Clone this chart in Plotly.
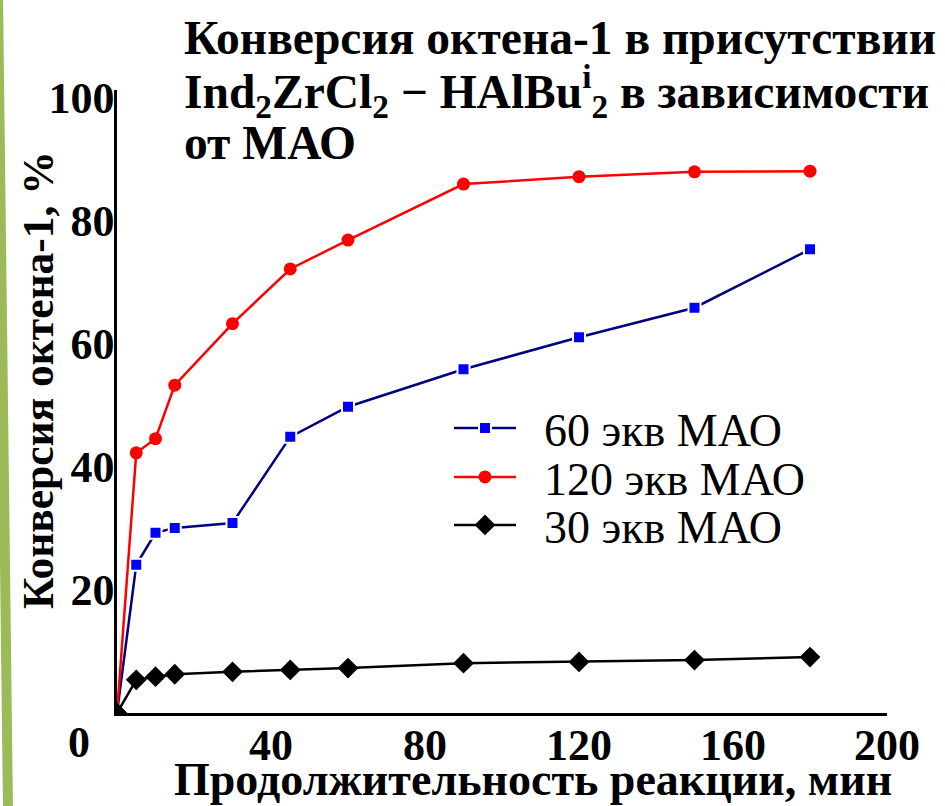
import plotly.graph_objects as go

# ---- data ----
time_min = [0, 5, 10, 15, 30, 45, 60, 90, 120, 150, 180]
conv_60 = [0, 24.1, 29.3, 30.1, 30.9, 44.9, 49.8, 55.9, 61.1, 65.9, 75.4]
conv_120 = [0, 42.3, 44.6, 53.3, 63.3, 72.2, 76.9, 86.0, 87.2, 88.0, 88.1]
conv_30 = [0, 5.4, 5.9, 6.3, 6.7, 7.0, 7.3, 8.1, 8.3, 8.6, 9.1]
series_names = ["60 экв МАО", "120 экв МАО", "30 экв МАО"]
x_ticks = [40, 80, 120, 160, 200]
y_ticks = [20, 40, 60, 80, 100]
title_lines = [
    "Конверсия октена-1 в присутствии",
    "Ind<sub>2</sub>ZrCl<sub>2</sub> − HAlBu<sup>i</sup><sub>2</sub> в зависимости",
    "от МАО",
]
x_title = "Продолжительность реакции, мин"
y_title = "Конверсия октена-1, %"

FONT = "Liberation Serif"
W, H = 945, 806
ML, MR, MT, MB = 117, 58, 90, 93
PW, PH = W - ML - MR, H - MT - MB


def px_x(p):
    return (p - ML) / PW


def px_y(p):
    return (H - MB - p) / PH


fig = go.Figure()
fig.add_trace(go.Scatter(
    x=time_min, y=conv_60, name="\u00a0\u00a0" + series_names[0], mode="lines+markers",
    line=dict(color="#000080", width=2.5),
    marker=dict(symbol="square", size=12, color="#0000FF", line=dict(color="white", width=2)),
    legend="legend",
))
fig.add_trace(go.Scatter(
    x=time_min, y=conv_120, name="\u00a0\u00a0" + series_names[1], mode="lines+markers",
    line=dict(color="#FF0000", width=2.5),
    marker=dict(symbol="circle", size=13, color="#FF0000"),
    legend="legend2",
))
fig.add_trace(go.Scatter(
    x=time_min, y=conv_30, name="\u00a0\u00a0" + series_names[2], mode="lines+markers",
    line=dict(color="#000000", width=2.5),
    marker=dict(symbol="diamond", size=16, color="#000000"),
    legend="legend3",
))

leg_common = dict(
    xanchor="left", yanchor="middle", bgcolor="rgba(0,0,0,0)",
    font=dict(family=FONT, size=46, color="black"), itemwidth=62,
)
fig.update_layout(
    legend=dict(x=px_x(449), y=px_y(428), **leg_common),
    legend2=dict(x=px_x(449), y=px_y(477), **leg_common),
    legend3=dict(x=px_x(449), y=px_y(525), **leg_common),
)

tick_font = dict(family=FONT, size=44, color="black", weight="bold")
fig.update_layout(
    width=W, height=H,
    margin=dict(l=ML, r=MR, t=MT, b=MB, pad=0),
    paper_bgcolor="white", plot_bgcolor="white",
    font=dict(family=FONT, color="black"),
    showlegend=True,
    xaxis=dict(
        range=[0, 200], tickvals=x_ticks, ticktext=[str(v) for v in x_ticks],
        showline=True, linecolor="black", linewidth=2.5, ticks="", ticklen=0,
        ticklabelstandoff=-9,
        showgrid=False, zeroline=False, tickfont=tick_font,
    ),
    yaxis=dict(
        range=[0, 101.3], tickvals=y_ticks, ticktext=[str(v) for v in y_ticks],
        showline=True, linecolor="black", linewidth=2.5, ticks="", ticklen=0,
        ticklabelstandoff=-9,
        showgrid=False, zeroline=False, tickfont=tick_font,
    ),
)

title_font = dict(family=FONT, size=47.5, color="black", weight="bold")
for line_text, yc in zip(title_lines, [38, 92, 143]):
    fig.add_annotation(
        text=line_text, xref="paper", yref="paper",
        x=px_x(182), y=px_y(yc), xanchor="left", yanchor="middle", showarrow=False,
        font=title_font,
    )

fig.add_annotation(
    text=x_title, xref="paper", yref="paper",
    x=px_x(533), y=px_y(779), xanchor="center", yanchor="middle", showarrow=False,
    font=dict(family=FONT, size=46, color="black", weight="bold"),
)
fig.add_annotation(
    text=y_title, xref="paper", yref="paper",
    x=px_x(38), y=px_y(380), xanchor="center", yanchor="middle", showarrow=False,
    textangle=-90,
    font=dict(family=FONT, size=43.5, color="black", weight="bold"),
)
fig.add_annotation(
    text="0", xref="paper", yref="paper",
    x=px_x(79), y=px_y(742), xanchor="center", yanchor="middle", showarrow=False,
    font=tick_font,
)

# green decorative bar on the left edge
fig.add_shape(
    type="line", xref="paper", yref="paper",
    x0=px_x(-2), y0=px_y(-5), x1=px_x(8), y1=px_y(811),
    line=dict(color="#9BBB59", width=10), layer="above",
)

fig.write_html(
    "out.html",
    config={"displayModeBar": False},
    post_script="document.body.style.margin='0';",
)
